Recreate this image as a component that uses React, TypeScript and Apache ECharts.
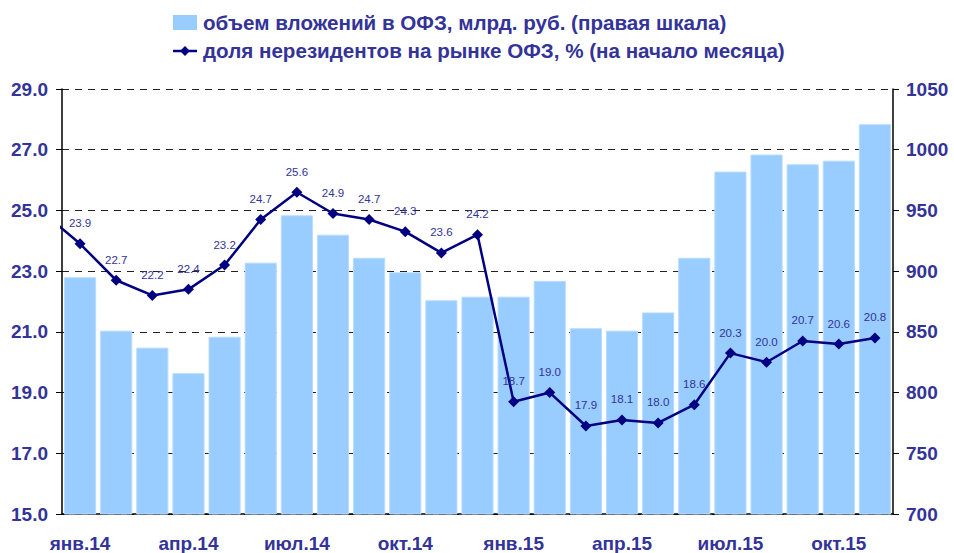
import React, { useEffect, useRef } from "react";
import * as echarts from "echarts";

const categories = [
  "янв.14", "фев.14", "мар.14", "апр.14", "май.14", "июн.14", "июл.14", "авг.14", "сен.14", "окт.14", "ноя.14", "дек.14",
  "янв.15", "фев.15", "мар.15", "апр.15", "май.15", "июн.15", "июл.15", "авг.15", "сен.15", "окт.15", "ноя.15",
];

// объем вложений в ОФЗ, млрд. руб. (right axis)
const investVolume = [895, 851, 837, 816, 846, 907, 946, 930, 911, 899, 876, 879, 879, 892, 853, 851, 866, 911, 982, 996, 988, 991, 1021];

// доля нерезидентов, % — first value is Dec 2013 (its segment enters from the left edge)
const lineMonths = ["дек.13", ...categories];
const nonresidentShare = [24.9, 23.9, 22.7, 22.2, 22.4, 23.2, 24.7, 25.6, 24.9, 24.7, 24.3, 23.6, 24.2, 18.7, 19.0, 17.9, 18.1, 18.0, 18.6, 20.3, 20.0, 20.7, 20.6, 20.8];

const legendBar = "объем вложений в ОФЗ, млрд. руб. (правая шкала)";
const legendLine = "доля нерезидентов на рынке ОФЗ, % (на начало месяца)";

const TEXT = "#333399";
const NAVY = "#000080";
const BAR = "#99CCFF";

export default function App() {
  const ref = useRef<HTMLDivElement>(null);
  useEffect(() => {
    if (!ref.current) return;
    const chart = echarts.init(ref.current, null, { renderer: "svg" });
    const lineData = nonresidentShare.map((v, j) => ({ name: lineMonths[j], value: [j - 0.5, v] }));
    const legendFont = { fontFamily: "Liberation Sans, Arial", fontWeight: "bold", fontSize: 20, fill: TEXT };
    chart.setOption({
      animation: false,
      backgroundColor: "#ffffff",
      legend: { show: false },
      graphic: [
        { type: "rect", x: 173, y: 15, shape: { width: 24, height: 15 }, style: { fill: BAR } },
        {
          type: "text",
          x: 203,
          y: 23,
          scaleX: 1.03,
          style: { text: legendBar, ...legendFont, verticalAlign: "middle", align: "left" },
        },
        { type: "line", shape: { x1: 173, y1: 51, x2: 197, y2: 51 }, style: { stroke: NAVY, lineWidth: 2.5 } },
        {
          type: "rect",
          x: 185,
          y: 51,
          rotation: Math.PI / 4,
          shape: { x: -3.5, y: -3.5, width: 7, height: 7 },
          style: { fill: NAVY },
        },
        {
          type: "text",
          x: 203,
          y: 51,
          scaleX: 1.03,
          style: { text: legendLine, ...legendFont, verticalAlign: "middle", align: "left" },
        },
      ],
      grid: { left: 62, right: 61, top: 89, bottom: 39, containLabel: false },
      xAxis: [
        {
          type: "category",
          data: categories,
          boundaryGap: true,
          axisLine: { lineStyle: { color: "#000", width: 1.5 } },
          axisTick: { interval: 2, length: 6, lineStyle: { color: "#000" } },
          axisLabel: {
            interval: 2,
            margin: 20,
            color: TEXT,
            fontWeight: "bold",
            fontSize: 19,
            fontFamily: "Liberation Sans, Arial",
          },
        },
        { type: "value", min: 0, max: categories.length, show: false },
      ],
      yAxis: [
        {
          type: "value",
          min: 15,
          max: 29,
          alignTicks: true,
          position: "left",
          axisLine: { show: true, lineStyle: { color: "#000", width: 1.5 } },
          axisTick: { show: true, length: 6, lineStyle: { color: "#000" } },
          splitLine: { show: false },
          axisLabel: {
            formatter: (v: number) => v.toFixed(1),
            margin: 14,
            color: TEXT,
            fontWeight: "bold",
            fontSize: 19,
            fontFamily: "Liberation Sans, Arial",
          },
        },
        {
          type: "value",
          min: 700,
          max: 1050,
          interval: 50,
          position: "right",
          axisLine: { show: true, lineStyle: { color: "#000", width: 1.5 } },
          axisTick: { show: true, length: 6, lineStyle: { color: "#000" } },
          splitLine: { show: true, lineStyle: { color: "#222", type: [7, 6], width: 1 } },
          axisLabel: {
            formatter: (v: number) => String(v),
            margin: 13,
            color: TEXT,
            fontWeight: "bold",
            fontSize: 19,
            fontFamily: "Liberation Sans, Arial",
          },
        },
      ],
      series: [
        {
          name: legendBar,
          type: "bar",
          xAxisIndex: 0,
          yAxisIndex: 1,
          data: investVolume,
          barCategoryGap: "11%",
          itemStyle: { color: BAR, borderColor: "#b8dcff", borderWidth: 1 },
          z: 1,
        },
        {
          name: legendLine,
          type: "line",
          xAxisIndex: 1,
          yAxisIndex: 0,
          data: lineData,
          clip: true,
          symbol: "diamond",
          symbolSize: 11,
          lineStyle: { color: NAVY, width: 2.5 },
          itemStyle: { color: NAVY },
          label: {
            show: true,
            position: "top",
            distance: 9,
            formatter: (p: any) => p.value[1].toFixed(1),
            color: TEXT,
            fontSize: 11.5,
            fontFamily: "Liberation Sans Narrow, Liberation Sans, Arial",
          },
          z: 3,
        },
      ],
    });
    return () => chart.dispose();
  }, []);
  return <div ref={ref} style={{ position: "fixed", left: 0, top: 0, width: 954, height: 553 }} />;
}
